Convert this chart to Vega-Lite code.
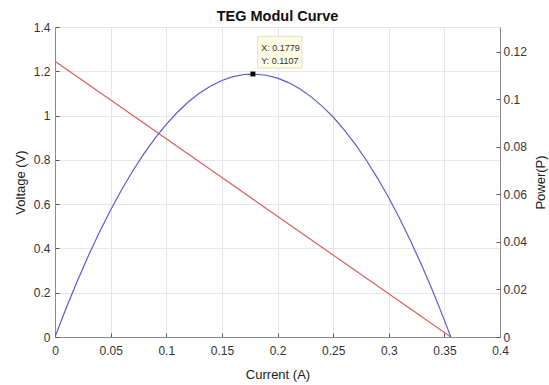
{
  "$schema": "https://vega.github.io/schema/vega-lite/v6.json",
  "width": 445,
  "height": 310,
  "autosize": {"type": "none"},
  "padding": {"left": 55, "top": 27, "right": 49, "bottom": 48},
  "background": "white",
  "title": {"text": "TEG Modul Curve", "font": "Liberation Sans", "fontSize": 14.5, "fontWeight": "bold", "color": "#111", "offset": -3, "anchor": "middle"},
  "datasets": {
    "voltage": [
      {"I": 0, "V": 1.245},
      {"I": 0.3558, "V": 0}
    ],
    "power": [
      {"I": 0, "P": 0},
      {"I": 0.01, "P": 0.0121},
      {"I": 0.02, "P": 0.0235},
      {"I": 0.03, "P": 0.0342},
      {"I": 0.04, "P": 0.0442},
      {"I": 0.05, "P": 0.0535},
      {"I": 0.06, "P": 0.0621},
      {"I": 0.07, "P": 0.0700},
      {"I": 0.08, "P": 0.0772},
      {"I": 0.09, "P": 0.0837},
      {"I": 0.10, "P": 0.0895},
      {"I": 0.11, "P": 0.0946},
      {"I": 0.12, "P": 0.0990},
      {"I": 0.13, "P": 0.1027},
      {"I": 0.14, "P": 0.1057},
      {"I": 0.15, "P": 0.1080},
      {"I": 0.16, "P": 0.1096},
      {"I": 0.17, "P": 0.1105},
      {"I": 0.1779, "P": 0.1107},
      {"I": 0.19, "P": 0.1102},
      {"I": 0.20, "P": 0.1090},
      {"I": 0.21, "P": 0.1071},
      {"I": 0.22, "P": 0.1045},
      {"I": 0.23, "P": 0.1012},
      {"I": 0.24, "P": 0.0972},
      {"I": 0.25, "P": 0.0926},
      {"I": 0.26, "P": 0.0872},
      {"I": 0.27, "P": 0.0811},
      {"I": 0.28, "P": 0.0743},
      {"I": 0.29, "P": 0.0668},
      {"I": 0.30, "P": 0.0586},
      {"I": 0.31, "P": 0.0497},
      {"I": 0.32, "P": 0.0401},
      {"I": 0.33, "P": 0.0298},
      {"I": 0.34, "P": 0.0188},
      {"I": 0.35, "P": 0.0071},
      {"I": 0.3558, "P": 0}
    ],
    "peak": [
      {"I": 0.1779, "P": 0.1107}
    ]
  },
  "config": {
    "view": {"stroke": "#e4e4e4", "strokeWidth": 1},
    "axis": {
      "labelFont": "Liberation Sans",
      "labelFontSize": 12,
      "labelColor": "#333333",
      "titleFont": "Liberation Sans",
      "titleFontSize": 13,
      "titleFontWeight": "normal",
      "titleColor": "#222222",
      "domainColor": "#8a8a8a",
      "tickColor": "#555555",
      "tickSize": -4,
      "gridColor": "#e6e6e6",
      "gridWidth": 1
    }
  },
  "encoding": {
    "x": {
      "field": "I", "type": "quantitative",
      "scale": {"domain": [0, 0.4], "nice": false, "zero": false},
      "axis": {"title": "Current (A)", "values": [0, 0.05, 0.1, 0.15, 0.2, 0.25, 0.3, 0.35, 0.4], "format": "~g", "grid": true, "labelPadding": 12, "titlePadding": 12, "labelFlush": false}
    }
  },
  "layer": [
    {
      "data": {"name": "voltage"},
      "mark": {"type": "line", "color": "#d9605c", "strokeWidth": 1.2, "clip": true},
      "encoding": {
        "y": {
          "field": "V", "type": "quantitative",
          "scale": {"domain": [0, 1.4], "nice": false},
          "axis": {"orient": "left", "title": "Voltage (V)", "values": [0, 0.2, 0.4, 0.6, 0.8, 1, 1.2, 1.4], "format": "~g", "grid": true, "labelPadding": 9, "titlePadding": 6}
        }
      }
    },
    {
      "layer": [
        {
          "data": {"name": "power"},
          "mark": {"type": "line", "color": "#5c5cd4", "strokeWidth": 1.2, "clip": true},
          "encoding": {
            "y": {
              "field": "P", "type": "quantitative",
              "scale": {"domain": [0, 0.1305], "nice": false},
              "axis": {"orient": "right", "title": "Power(P)", "titleAngle": 270, "titleBaseline": "top", "values": [0, 0.02, 0.04, 0.06, 0.08, 0.1, 0.12], "format": "~g", "grid": false, "labelPadding": 7, "titlePadding": 8}
            }
          }
        },
        {
          "data": {"name": "peak"},
          "mark": {"type": "rect", "fill": "#fdfde4", "stroke": "#d8d8c0", "strokeWidth": 0.8, "xOffset": 4.7, "x2Offset": 49, "yOffset": -6, "y2Offset": -37.7},
          "encoding": {
            "x2": {"field": "I"},
            "y": {"field": "P", "type": "quantitative"},
            "y2": {"field": "P"}
          }
        },
        {
          "data": {"name": "peak"},
          "mark": {"type": "text", "text": ["X: 0.1779", "Y: 0.1107"], "font": "Liberation Sans", "fontSize": 9, "color": "#333333", "align": "left", "baseline": "alphabetic", "dx": 8.3, "dy": -23.5, "lineHeight": 13.4},
          "encoding": {
            "y": {"field": "P", "type": "quantitative"}
          }
        },
        {
          "data": {"name": "peak"},
          "mark": {"type": "point", "shape": "square", "filled": true, "color": "#000000", "size": 24, "opacity": 1},
          "encoding": {
            "y": {"field": "P", "type": "quantitative"}
          }
        }
      ]
    }
  ],
  "resolve": {"scale": {"y": "independent"}}
}
